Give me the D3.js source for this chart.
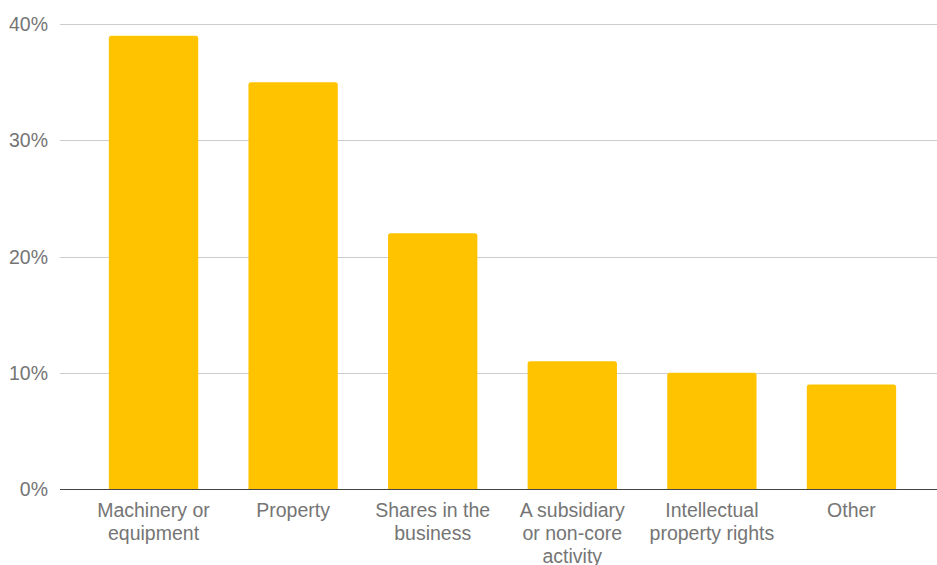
<!DOCTYPE html>
<html>
<head>
<meta charset="utf-8">
<script src="https://cdn.jsdelivr.net/npm/d3@7"></script>
<style>
  html, body { margin: 0; padding: 0; background: #fff; }
  svg { display: block; }
</style>
</head>
<body>
<svg id="chart" width="937" height="565"></svg>
<script>
const categories = ["Machinery or equipment", "Property", "Shares in the business", "A subsidiary or non-core activity", "Intellectual property rights", "Other"];
const labelLines = [["Machinery or", "equipment"], ["Property"], ["Shares in the", "business"], ["A subsidiary", "or non-core", "activity"], ["Intellectual", "property rights"], ["Other"]];
const values = [39, 35, 22, 11, 10, 9];
const yTicks = [0, 10, 20, 30, 40];

(function () {
const svg = d3.select("#chart");
const mLeft = 60, mRight = 945, mTop = 24, mBottom = 489;
const font = "'Liberation Sans', Arial, sans-serif";

const x = d3.scaleBand().domain(categories).range([mLeft, mRight]).paddingInner(0.36).paddingOuter(0.35);
const y = d3.scaleLinear().domain([0, 40]).range([mBottom, mTop]);

// gridlines
svg.append("g").selectAll("line").data(yTicks.filter(d => d !== 0)).join("line")
  .attr("x1", mLeft).attr("x2", 937)
  .attr("y1", d => Math.round(y(d)) + 0.5).attr("y2", d => Math.round(y(d)) + 0.5)
  .attr("stroke", "#cccccc").attr("stroke-width", 1);

// y tick labels
svg.append("g").selectAll("text").data(yTicks).join("text")
  .attr("x", 48).attr("y", d => y(d) + 7)
  .attr("text-anchor", "end")
  .attr("font-family", font).attr("font-size", 19.5)
  .attr("fill", "#757575")
  .text(d => d + "%");

// bars
const r = 2.5;
svg.append("g").selectAll("path").data(values).join("path")
  .attr("fill", "#ffc300")
  .attr("d", (d, i) => {
    const x0 = x(categories[i]), w = x.bandwidth(), y0 = y(d), yb = y(0);
    return `M${x0},${yb} L${x0},${y0 + r} Q${x0},${y0} ${x0 + r},${y0} L${x0 + w - r},${y0} Q${x0 + w},${y0} ${x0 + w},${y0 + r} L${x0 + w},${yb} Z`;
  });

// baseline axis
svg.append("line")
  .attr("x1", mLeft).attr("x2", 937)
  .attr("y1", mBottom + 0.5).attr("y2", mBottom + 0.5)
  .attr("stroke", "#444444").attr("stroke-width", 1.2);

// x labels
const xl = svg.append("g").selectAll("text").data(categories).join("text")
  .attr("x", d => x(d) + x.bandwidth() / 2)
  .attr("y", 517)
  .attr("text-anchor", "middle")
  .attr("font-family", font).attr("font-size", 19.5)
  .attr("fill", "#757575");
xl.each(function(d, i) {
  d3.select(this).selectAll("tspan").data(labelLines[i]).join("tspan")
    .attr("x", x(d) + x.bandwidth() / 2)
    .attr("dy", (t, j) => j === 0 ? 0 : 23)
    .text(t => t);
});
})();
</script>
</body>
</html>
